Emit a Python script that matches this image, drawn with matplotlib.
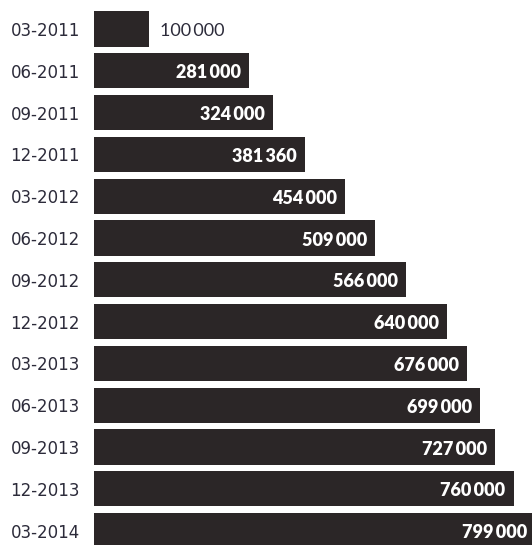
import matplotlib.pyplot as plt

# quarterly values
quarters = ['03-2011', '06-2011', '09-2011', '12-2011', '03-2012', '06-2012', '09-2012',
            '12-2012', '03-2013', '06-2013', '09-2013', '12-2013', '03-2014']
values = [100000, 281000, 324000, 381360, 454000, 509000, 566000,
          640000, 676000, 699000, 727000, 760000, 799000]

bar_color = '#2b2627'
text_color = '#2c2b3a'

fig = plt.figure(figsize=(5.32, 5.45), dpi=100)
ax = fig.add_axes([94 / 532, 0, 1 - 94 / 532, 1])

ypos = list(range(len(values)))
ax.barh(ypos, values, height=0.84, color=bar_color, left=0)

# scale: ~552 px per million
ax.set_xlim(0, (532 - 94) / 552 * 1e6)
ax.set_ylim((545 - 29) / 41.8, -29 / 41.8)

px = 1e6 / 552  # one pixel in data units
for y, v in zip(ypos, values):
    s = f'{v:,}'.replace(',', '\u2009')
    if v < 200000:
        ax.text(v + 11 * px, y + 0.05, s, ha='left', va='center', color=text_color,
                fontsize=13, family=['Lato', 'DejaVu Sans'])
    else:
        ax.text(v - 8 * px, y + 0.05, s, ha='right', va='center', color='white',
                fontsize=13, fontweight='heavy', family=['Lato', 'DejaVu Sans'])

ax.set_yticks(ypos)
ax.set_yticklabels(quarters, fontsize=12, color=text_color, family=['DejaVu Sans'])
ax.tick_params(axis='y', length=0, pad=10)
ax.set_xticks([])
for sp in ax.spines.values():
    sp.set_visible(False)

fig.savefig('out.png', dpi=100)
